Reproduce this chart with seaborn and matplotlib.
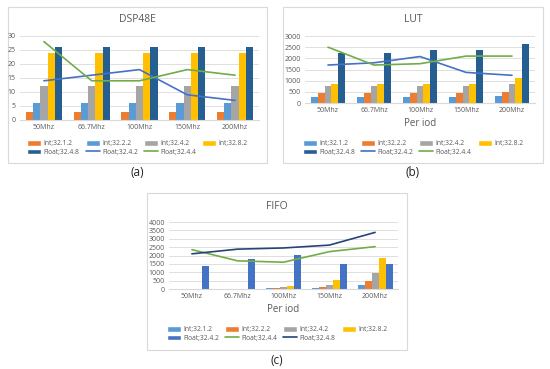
import numpy as np
import pandas as pd
import seaborn as sns
import matplotlib.pyplot as plt
from matplotlib.patches import Rectangle, Patch
from matplotlib.lines import Line2D

# -----------------------------------------------------------------------------
# Data
# -----------------------------------------------------------------------------
periods = ["50Mhz", "66.7Mhz", "100Mhz", "150Mhz", "200Mhz"]

# DSP48E
dsp_int_1_2 = [3, 3, 3, 3, 3]
dsp_int_2_2 = [6, 6, 6, 6, 6]
dsp_int_4_2 = [12, 12, 12, 12, 12]
dsp_int_8_2 = [24, 24, 24, 24, 24]
dsp_float_4_8 = [26, 26, 26, 26, 26]
dsp_float_4_2 = [14, 16, 18, 9, 7]
dsp_float_4_4 = [28, 14, 14, 18, 16]

# LUT
lut_int_1_2 = [270, 270, 270, 270, 300]
lut_int_2_2 = [430, 430, 430, 430, 490]
lut_int_4_2 = [750, 750, 760, 760, 860]
lut_int_8_2 = [850, 850, 850, 850, 1100]
lut_float_4_8 = [2250, 2250, 2380, 2370, 2620]
lut_float_4_2 = [1700, 1800, 2080, 1370, 1240]
lut_float_4_4 = [2500, 1700, 1760, 2100, 2100]

# FIFO
fifo_int_1_2 = [20, 20, 30, 50, 220]
fifo_int_2_2 = [10, 10, 60, 120, 480]
fifo_int_4_2 = [10, 10, 110, 250, 950]
fifo_int_8_2 = [20, 20, 150, 560, 1870]
fifo_float_4_2 = [1370, 1820, 2050, 1480, 1480]
fifo_float_4_4 = [2350, 1680, 1600, 2230, 2530]
fifo_float_4_8 = [2100, 2380, 2450, 2620, 3380]

# -----------------------------------------------------------------------------
# Plotting attributes
# -----------------------------------------------------------------------------
sns.set_theme(style="white")
plt.rcParams["font.family"] = ["Open Sans", "DejaVu Sans"]

orange = "#ED7D31"
lblue = "#5B9BD5"
gray = "#A5A5A5"
yellow = "#FFC000"
navy = "#255E91"
blue = "#4472C4"
green = "#70AD47"
dnavy = "#264478"
grid_c = "#D9D9D9"
text_c = "#595959"

W, H = 550, 369
fig = plt.figure(figsize=(W / 100, H / 100), dpi=100)
fig.patch.set_facecolor("white")


def frac(x0, y0, x1, y1):
    # pixel box (top-left origin) -> figure fraction rect
    return [x0 / W, 1 - y1 / H, (x1 - x0) / W, (y1 - y0) / H]


def draw_panel(box, plot, title, title_y, bars, lines, ylim, ystep,
               xlabel, legend_y, tag, tag_y):
    # Chart frame
    bx = frac(*box)
    fig.patches.append(Rectangle((bx[0], bx[1]), bx[2], bx[3], transform=fig.transFigure,
                                 facecolor="none", edgecolor=grid_c, lw=0.8, zorder=-5))
    ax = fig.add_axes(frac(*plot))
    ax.set_facecolor("none")

    # Bars
    rows = []
    for name, vals, col in bars:
        for p, v in zip(periods, vals):
            rows.append({"period": p, "series": name, "value": v})
    df = pd.DataFrame(rows)
    sns.barplot(data=df, x="period", y="value", hue="series", order=periods,
                hue_order=[b[0] for b in bars], palette=[b[2] for b in bars],
                width=0.76, gap=0.0, saturation=1, linewidth=0, ax=ax, legend=False, zorder=2)

    # Lines
    for name, vals, col in lines:
        sns.lineplot(x=np.arange(len(periods)), y=vals, color=col, lw=1.2, ax=ax, zorder=3)

    ax.set_xlim(-0.5, len(periods) - 0.5)
    ax.set_ylim(*ylim)
    ax.set_yticks(np.arange(ylim[0], ylim[1] + 1, ystep))
    ax.yaxis.grid(True, color=grid_c, lw=0.6)
    ax.set_axisbelow(True)
    for s in ["top", "right", "left"]:
        ax.spines[s].set_visible(False)
    ax.spines["bottom"].set_color(grid_c)
    ax.spines["bottom"].set_linewidth(0.8)
    ax.tick_params(axis="both", length=0, labelsize=5, colors=text_c, pad=3)
    ax.set_ylabel("")
    if xlabel:
        ax.set_xlabel(xlabel, fontsize=7, color=text_c, labelpad=3)
    else:
        ax.set_xlabel("")

    # Title
    cx = (box[0] + box[2]) / 2 / W
    fig.text(cx, 1 - title_y / H, title, ha="center", va="center", fontsize=7.5, color=text_c)

    # Legend (Excel row order)
    items = [Patch(facecolor=b[2], label=b[0]) for b in bars] + \
            [Line2D([], [], color=l[2], lw=1.2, label=l[0]) for l in lines]
    order = [0, 4, 1, 5, 2, 6, 3]
    handles = [items[i] for i in order]
    fig.legend(handles=handles, labels=[h.get_label() for h in handles], ncol=4,
               loc="center", bbox_to_anchor=(cx, 1 - legend_y / H), frameon=False,
               fontsize=4.8, labelcolor=text_c, handlelength=2.1, handleheight=0.9,
               handletextpad=0.35, columnspacing=0.9, labelspacing=0.15)

    fig.text(cx, 1 - tag_y / H, tag, ha="center", va="center", fontsize=8.5, color="#222222")
    return ax


# (a) DSP48E
draw_panel(box=(8, 7, 267, 163), plot=(20, 36, 259, 120), title="DSP48E", title_y=20,
           bars=[("Int;32.1.2", dsp_int_1_2, orange), ("Int;32.2.2", dsp_int_2_2, lblue),
                 ("Int;32.4.2", dsp_int_4_2, gray), ("Int;32.8.2", dsp_int_8_2, yellow),
                 ("Float;32.4.8", dsp_float_4_8, navy)],
           lines=[("Float;32.4.2", dsp_float_4_2, blue), ("Float;32.4.4", dsp_float_4_4, green)],
           ylim=(0, 30), ystep=5, xlabel=None, legend_y=148, tag="(a)", tag_y=173)

# (b) LUT
draw_panel(box=(283, 7, 543, 163), plot=(305, 36, 535, 103), title="LUT", title_y=20,
           bars=[("Int;32.1.2", lut_int_1_2, lblue), ("Int;32.2.2", lut_int_2_2, orange),
                 ("Int;32.4.2", lut_int_4_2, gray), ("Int;32.8.2", lut_int_8_2, yellow),
                 ("Float;32.4.8", lut_float_4_8, navy)],
           lines=[("Float;32.4.2", lut_float_4_2, blue), ("Float;32.4.4", lut_float_4_4, green)],
           ylim=(0, 3000), ystep=500, xlabel="Per iod", legend_y=148, tag="(b)", tag_y=172)

# (c) FIFO
draw_panel(box=(147, 193, 407, 350), plot=(169, 222, 398, 289), title="FIFO", title_y=206,
           bars=[("Int;32.1.2", fifo_int_1_2, lblue), ("Int;32.2.2", fifo_int_2_2, orange),
                 ("Int;32.4.2", fifo_int_4_2, gray), ("Int;32.8.2", fifo_int_8_2, yellow),
                 ("Float;32.4.2", fifo_float_4_2, blue)],
           lines=[("Float;32.4.4", fifo_float_4_4, green), ("Float;32.4.8", fifo_float_4_8, dnavy)],
           ylim=(0, 4000), ystep=500, xlabel="Per iod", legend_y=334, tag="(c)", tag_y=360)

plt.savefig("out.png", dpi=100, facecolor="white")
